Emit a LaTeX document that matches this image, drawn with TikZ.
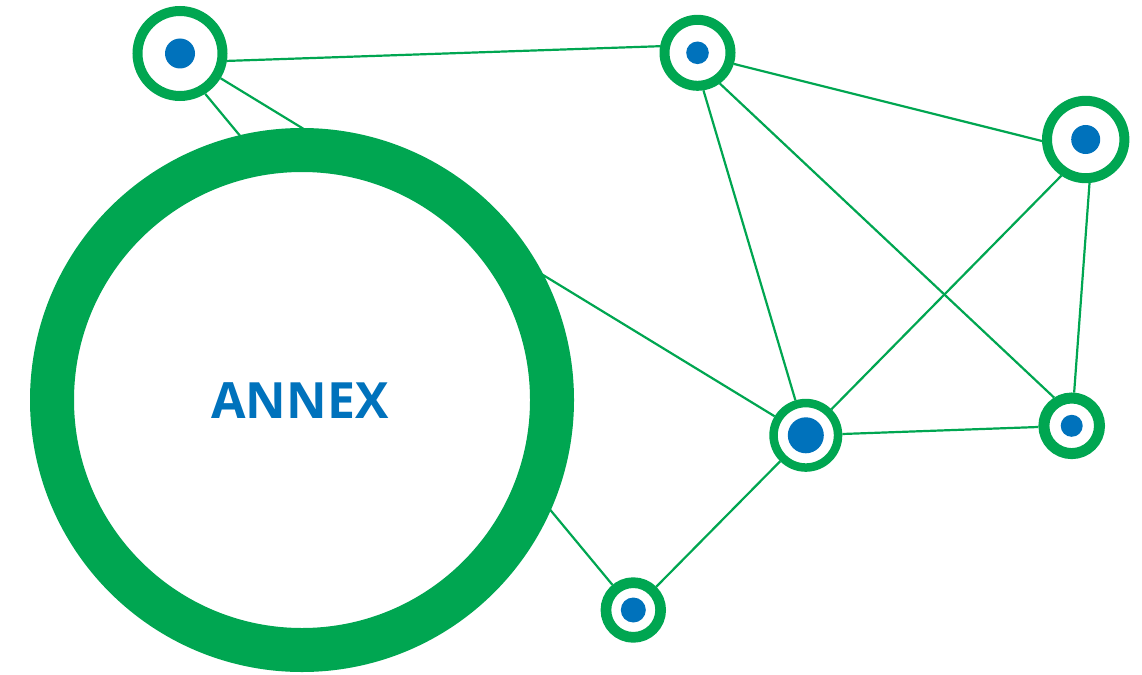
\documentclass[tikz,border=0pt]{standalone}
\usepackage{fontspec}
\newfontfamily\annexfont{Open Sans}
\usetikzlibrary{backgrounds}
\definecolor{netgreen}{RGB}{0,166,81}
\definecolor{dotblue}{RGB}{0,114,188}
\tikzset{
    hub/.style 2 args={circle, draw=netgreen, fill=white, line width=#2, minimum size=#1, inner sep=0pt},
    link/.style={netgreen, line width=2.2pt}
}
\begin{document}
\begin{tikzpicture}[x=1pt, y=-1pt]
    \useasboundingbox (0,0) rectangle (1142,674);
    \node[hub={500pt}{44pt}] (annex) at (302,400) {};
    \node[text=dotblue, font=\annexfont\bfseries\fontsize{50}{60}\selectfont] (title) at (300,401) {ANNEX};
    \node[hub={85pt}{10pt}] (hubNW) at (180,53.5) {};
    \node[hub={66pt}{10pt}] (hubN) at (697.5,52.8) {};
    \node[hub={77.4pt}{10pt}] (hubE) at (1085.7,139.5) {};
    \node[hub={64.5pt}{8.5pt}] (hubC) at (805.8,435.3) {};
    \node[hub={55.6pt}{11pt}] (hubSE) at (1071.7,425.8) {};
    \node[hub={54.7pt}{10.7pt}] (hubS) at (633.3,610) {};
    \foreach \n/\r in {hubNW/15, hubN/11.3, hubE/14.5, hubC/18, hubSE/11, hubS/12.5} {
        \fill[dotblue] (\n) circle (\r pt);
    }
    \begin{scope}[on background layer]
        \draw[link] (hubNW.-9) -- (hubN.170);
        \draw[link] (hubNW) -- (hubC);
        \draw[link] (hubNW.-58) -- (hubS);
        \draw[link] (hubN.-81) -- (hubC);
        \draw[link] (hubN.-54) -- (hubSE.122);
        \draw[link] (hubN.-17) -- (hubE.182);
        \draw[link] (hubE.-124) -- (hubC);
        \draw[link] (hubE.-85) -- (hubSE);
        \draw[link] (hubC) -- (hubSE);
        \draw[link] (hubC) -- (hubS);
    \end{scope}
\end{tikzpicture}
\end{document}
